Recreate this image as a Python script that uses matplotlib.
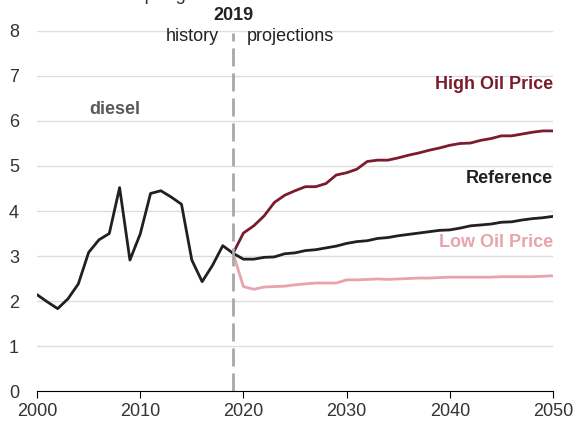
import matplotlib
matplotlib.use("Agg")
import matplotlib.pyplot as plt
import numpy as np

plt.rcParams['font.family'] = ['Liberation Sans', 'DejaVu Sans']

# history (diesel price, 2019 dollars per gallon)
hist_years = list(range(2000, 2020))
hist_vals = [2.14, 1.98, 1.83, 2.05, 2.38, 3.08, 3.36, 3.50, 4.52, 2.91,
             3.49, 4.39, 4.45, 4.31, 4.15, 2.91, 2.43, 2.79, 3.23, 3.06]

# projections 2019-2050
proj_years = list(range(2019, 2051))
reference = [3.06, 2.93, 2.93, 2.97, 2.98, 3.05, 3.07, 3.12, 3.14, 3.18, 3.22,
             3.28, 3.32, 3.34, 3.39, 3.41, 3.45, 3.48, 3.51, 3.54, 3.57,
             3.58, 3.62, 3.67, 3.69, 3.71, 3.75, 3.76, 3.80, 3.83, 3.85, 3.88]
high_oil = [3.06, 3.51, 3.67, 3.89, 4.19, 4.35, 4.45, 4.54, 4.54, 4.61, 4.80,
            4.85, 4.93, 5.10, 5.13, 5.13, 5.18, 5.24, 5.29, 5.35, 5.40,
            5.46, 5.50, 5.51, 5.57, 5.61, 5.67, 5.67, 5.71, 5.75, 5.78, 5.78]
low_oil = [3.06, 2.32, 2.26, 2.31, 2.32, 2.33, 2.36, 2.38, 2.40, 2.40, 2.40,
           2.47, 2.47, 2.48, 2.49, 2.48, 2.49, 2.50, 2.51, 2.51, 2.52,
           2.53, 2.53, 2.53, 2.53, 2.53, 2.54, 2.54, 2.54, 2.54, 2.55, 2.56]

C_REF = '#231f20'
C_HIGH = '#7b1c2e'
C_LOW = '#e8a3ad'

fig = plt.figure(figsize=(5.79, 4.28), dpi=100)
ax = fig.add_axes([0.064, 0.0864, 0.891, 0.8412])

ax.set_xlim(2000, 2050)
ax.set_ylim(0, 8)
ax.set_yticks(range(0, 9))
ax.set_xticks(range(2000, 2051, 10))
ax.grid(axis='y', color='#dddddd', linewidth=1)
ax.set_axisbelow(True)
for s in ['left', 'right', 'top']:
    ax.spines[s].set_visible(False)
ax.spines['bottom'].set_color('black')
ax.tick_params(axis='y', length=0, labelsize=13, pad=13, colors='#333333')
ax.tick_params(axis='x', length=5, labelsize=13, colors='#333333')
ax.tick_params(axis='x', color='black')

ax.plot(proj_years, low_oil, color=C_LOW, lw=2, solid_joinstyle='round')
ax.plot(proj_years, high_oil, color=C_HIGH, lw=2, solid_joinstyle='round')
ax.plot(proj_years, reference, color=C_REF, lw=2, solid_joinstyle='round')
ax.plot(hist_years, hist_vals, color=C_REF, lw=2, solid_joinstyle='round')

ax.plot([2019, 2019], [0, 7.95], color='#a8a8ab', lw=2, dashes=(6.5, 2.5),
        clip_on=False)

ax.text(2019, 8.35, '2019', ha='center', va='center', fontsize=13,
        fontweight='bold', color='#222222')
ax.text(2017.6, 7.88, 'history', ha='right', va='center', fontsize=13,
        color='#222222')
ax.text(2020.3, 7.88, 'projections', ha='left', va='center', fontsize=13,
        color='#222222')

ax.text(2050, 6.8, 'High Oil Price', ha='right', va='center', fontsize=13,
        fontweight='bold', color=C_HIGH)
ax.text(2050, 4.73, 'Reference', ha='right', va='center', fontsize=13,
        fontweight='bold', color=C_REF)
ax.text(2050, 3.3, 'Low Oil Price', ha='right', va='center', fontsize=13,
        fontweight='bold', color=C_LOW)
ax.text(2007.5, 6.25, 'diesel', ha='center', va='center', fontsize=13,
        fontweight='bold', color='#595959')

fig.text(0.07, 1.0, '2019 dollars per gallon', ha='left', va='baseline',
         fontsize=13, color='#333333')

fig.savefig('out.png', dpi=100)
